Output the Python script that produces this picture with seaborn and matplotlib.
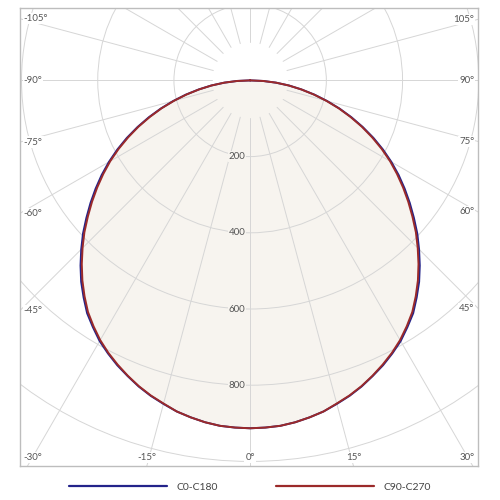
import numpy as np
import pandas as pd
import matplotlib
matplotlib.use("Agg")
import matplotlib.pyplot as plt
import seaborn as sns
from matplotlib.patches import Circle
from matplotlib.lines import Line2D

# ---- data (luminous intensity, cd/klm), gamma angle 0..90 in 2.5 deg steps ----
angles = [0, 2.5, 5, 7.5, 10, 12.5, 15, 17.5, 20, 22.5, 25, 27.5, 30, 32.5, 35, 37.5,
          40, 42.5, 45, 47.5, 50, 52.5, 55, 57.5, 60, 62.5, 65, 67.5, 70, 72.5, 75,
          77.5, 80, 82.5, 85, 87.5, 90]
c0_c180 = [913, 912, 910, 905, 898, 890, 879, 868, 855, 840, 825, 808, 790, 768, 746, 718,
           690, 659, 627, 595, 561, 528, 495, 462, 428, 393, 357, 320, 283, 246, 209,
           173, 137, 103, 68, 34, 0]
c90_c270 = [913, 912, 910, 905, 898, 890, 878, 867, 854, 839, 823, 806, 787, 765, 742, 714,
            685, 654, 622, 590, 556, 523, 490, 457, 424, 389, 353, 317, 280, 244, 207,
            171, 136, 102, 68, 34, 0]
series_names = ["C0-C180", "C90-C270"]
series_colors = ["#23238a", "#9b2a2a"]
radial_ticks = [200, 400, 600, 800]
grid_circles = [200, 400, 600, 800, 1000, 1200]
angle_ticks = [-105, -90, -75, -60, -45, -30, -15, 0, 15, 30, 45, 60, 75, 90, 105]

sns.set_theme(style="white")
plt.rcParams['font.family'] = ['Lato', 'DejaVu Sans']

fig = plt.figure(figsize=(5, 5), dpi=100)
ax = fig.add_axes([0.04, 0.068, 0.916, 0.916])
XL, XR, YB, YT = -604, 598, -1012, 190
ax.set_xlim(XL, XR)
ax.set_ylim(YB, YT)

grid_c = "#d6d6d6"


def draw_grid(z):
    for a in range(-180, 180, 15):
        t = np.deg2rad(a)
        ax.plot([100 * np.sin(t), 3000 * np.sin(t)], [-100 * np.cos(t), -3000 * np.cos(t)],
                color=grid_c, lw=0.7, zorder=z)
    for r in grid_circles:
        ax.add_patch(Circle((0, 0), r, fill=False, ec=grid_c, lw=0.7, zorder=z))


# build curves (full plane: mirrored)
rows = []
th_full = [-a for a in angles[::-1]] + angles[1:]
for name, vals in zip(series_names, [c0_c180, c90_c270]):
    r_full = vals[::-1] + vals[1:]
    for th, r in zip(th_full, r_full):
        t = np.deg2rad(th)
        rows.append(dict(series=name, theta=th, x=r * np.sin(t), y=-r * np.cos(t)))
df = pd.DataFrame(rows)

d0 = df[df.series == "C0-C180"]
ax.fill(d0.x, d0.y, color="#f7f4ef", zorder=2, lw=0)
draw_grid(2.5)

sns.lineplot(data=df, x="x", y="y", hue="series", palette=series_colors,
             hue_order=series_names, sort=False, estimator=None, units="series",
             lw=1.4, ax=ax, legend=False, zorder=4)

# radial labels
for r in radial_ticks:
    ax.text(-12, -r, str(r), ha="right", va="center", fontsize=7, color="#555555",
            zorder=5, bbox=dict(fc="#f7f4ef", ec="none", pad=0.5))

# angle labels at box edges
for a in angle_ticks:
    t = np.deg2rad(a)
    s, c = np.sin(t), -np.cos(t)
    lab = f"{a}°"
    kw = dict(fontsize=7, color="#555555", zorder=5,
              bbox=dict(fc="white", ec="none", pad=0.8))
    if abs(a) >= 45:
        if a < 0:
            y = XL * c / s
            ax.text(0.008, y, lab, transform=ax.get_yaxis_transform(), ha="left", va="center", **kw)
        else:
            y = XR * c / s
            ax.text(0.992, y, lab, transform=ax.get_yaxis_transform(), ha="right", va="center", **kw)
    else:
        x = YB * s / c
        ha = "center"
        if a == -30:
            ha = "left"; x = XL + 10
        elif a == 30:
            ha = "right"; x = XR - 10
        ax.text(x, 0.018, lab, transform=ax.get_xaxis_transform(), ha=ha, va="center", **kw)

ax.set_xticks([]); ax.set_yticks([])
ax.set_xlabel(""); ax.set_ylabel("")
for sp in ax.spines.values():
    sp.set_color("#bdbdbd"); sp.set_linewidth(1.0); sp.set_visible(True)

handles = [Line2D([], [], color=c, lw=1.6) for c in series_colors]
fig.legend(handles, series_names, loc="center", bbox_to_anchor=(0.5, 1 - 487 / 500),
           ncol=2, frameon=False, fontsize=7.5, handlelength=9.4, handletextpad=0.9,
           columnspacing=5.6, labelcolor="#444444")

fig.savefig("out.png", dpi=100, facecolor="white")
